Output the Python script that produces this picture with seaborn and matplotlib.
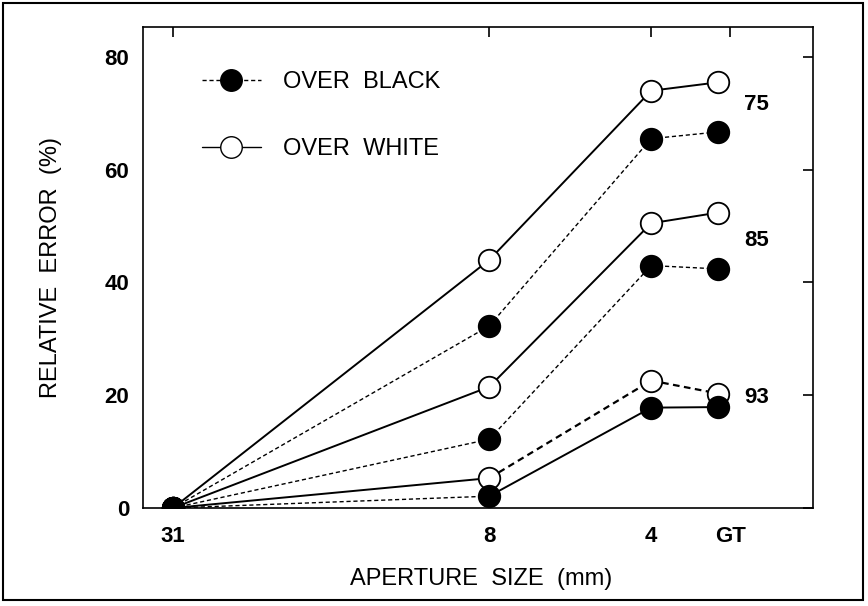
import numpy as np
import pandas as pd
import matplotlib
matplotlib.use("Agg")
import matplotlib.pyplot as plt
from matplotlib.lines import Line2D
from matplotlib.patches import Rectangle
import seaborn as sns

# aperture sizes (mm); GT plotted just past 4 mm on the log axis
apertures = [31, 8, 4, 3.0]
tick_pos = [31, 8, 4, 2.85]
tick_labels = ["31", "8", "4", "GT"]

# relative error (%)
white_75 = [0, 44.0, 74.0, 75.5]
black_75 = [0, 32.3, 65.5, 66.7]
white_85 = [0, 21.5, 50.5, 52.4]
black_85 = [0, 12.2, 43.0, 42.4]
white_93 = [0, 5.3, 22.6, 20.3]
black_93 = [0, 2.1, 17.8, 17.9]

groups = ["75", "85", "93"]
series = {
    ("75", "OVER WHITE"): white_75,
    ("75", "OVER BLACK"): black_75,
    ("85", "OVER WHITE"): white_85,
    ("85", "OVER BLACK"): black_85,
    ("93", "OVER WHITE"): white_93,
    ("93", "OVER BLACK"): black_93,
}

rows = []
for (grp, surround), vals in series.items():
    for a, v in zip(apertures, vals):
        rows.append({"aperture": a, "error": v, "group": grp, "surround": surround})
df = pd.DataFrame(rows)

# line style for each segment (the 93 curves swap styles after 8 mm in the original)
seg_styles = {
    ("75", "OVER WHITE"): ["-", "-", "-"],
    ("75", "OVER BLACK"): ["--", "--", "--"],
    ("85", "OVER WHITE"): ["-", "-", "-"],
    ("85", "OVER BLACK"): ["--", "--", "--"],
    ("93", "OVER WHITE"): ["-", "--", "--"],
    ("93", "OVER BLACK"): ["--", "-", "-"],
}

sns.set_style("white")
plt.rcParams["font.family"] = ["Liberation Sans", "DejaVu Sans"]
plt.rcParams["text.color"] = "black"
plt.rcParams["axes.labelcolor"] = "black"

fig = plt.figure(figsize=(8.68, 6.06), dpi=100)
ax = fig.add_axes([0.1647, 0.1617, 0.772, 0.7937])

for key, styles in seg_styles.items():
    sub = df[(df["group"] == key[0]) & (df["surround"] == key[1])].reset_index(drop=True)
    for i, ls in enumerate(styles):
        seg = sub.iloc[i:i + 2]
        lw = 1.4 if ls == "-" else 1.0
        if key[0] == "93" and i > 0 and key[1] == "OVER WHITE":
            lw = 1.6
        line_ax = sns.lineplot(data=seg, x="aperture", y="error", color="black",
                               lw=lw, ax=ax, legend=False, sort=False)
        line_ax.lines[-1].set_linestyle(ls)
        if ls == "--":
            line_ax.lines[-1].set_dashes((3, 2))

# markers: white ones first, black ones on top
sns.scatterplot(data=df[df["surround"] == "OVER WHITE"], x="aperture", y="error",
                s=240, color="white", edgecolor="black", linewidth=1.3,
                ax=ax, legend=False, zorder=3)
sns.scatterplot(data=df[df["surround"] == "OVER BLACK"], x="aperture", y="error",
                s=240, color="black", edgecolor="black", linewidth=1.3,
                ax=ax, legend=False, zorder=4)

ax.set_xscale("log")
ax.set_xlim(35.25, 2.0)
ax.set_ylim(0, 85.3)
ax.set_xticks(tick_pos)
ax.set_xticklabels(tick_labels)
ax.minorticks_off()
ax.set_yticks([0, 20, 40, 60, 80])

ax.tick_params(direction="in", top=True, right=True, length=7, width=1.2,
               labelsize=16, colors="black")
ax.tick_params(axis="x", pad=13)
ax.tick_params(axis="y", pad=10)
for lab in ax.get_xticklabels() + ax.get_yticklabels():
    lab.set_fontweight("bold")
for sp in ax.spines.values():
    sp.set_visible(True)
    sp.set_color("black")
    sp.set_linewidth(1.2)

ax.set_xlabel("APERTURE  SIZE  (mm)", fontsize=17, color="black")
ax.set_ylabel("RELATIVE  ERROR  (%)", fontsize=17, color="black")
ax.xaxis.set_label_coords(0.505, -0.125)
ax.yaxis.set_label_coords(-0.121, 0.5)

# group labels
label_y = {"75": 0.838, "85": 0.557, "93": 0.229}
for g in groups:
    ax.text(0.916, label_y[g], g, transform=ax.transAxes, fontsize=16,
            fontweight="bold", ha="center", va="center", color="black")

handles = [
    Line2D([], [], color="black", lw=1.0, ls=(0, (3, 2)), marker="o", markersize=15.5,
           markerfacecolor="black", markeredgecolor="black"),
    Line2D([], [], color="black", lw=1.0, ls="-", marker="o", markersize=15.5,
           markerfacecolor="white", markeredgecolor="black"),
]
leg = ax.legend(handles, ["OVER  BLACK", "OVER  WHITE"], loc="upper left",
                bbox_to_anchor=(0.088, 0.908), frameon=False, fontsize=17,
                handlelength=2.5, handletextpad=0.95, labelspacing=1.9,
                borderpad=0, borderaxespad=0)
for t in leg.get_texts():
    t.set_color("black")

fig.patches.append(Rectangle((0.004, 0.01), 0.99, 0.985, transform=fig.transFigure,
                             fill=False, edgecolor="black", lw=1.5))

plt.savefig("out.png", dpi=100)
